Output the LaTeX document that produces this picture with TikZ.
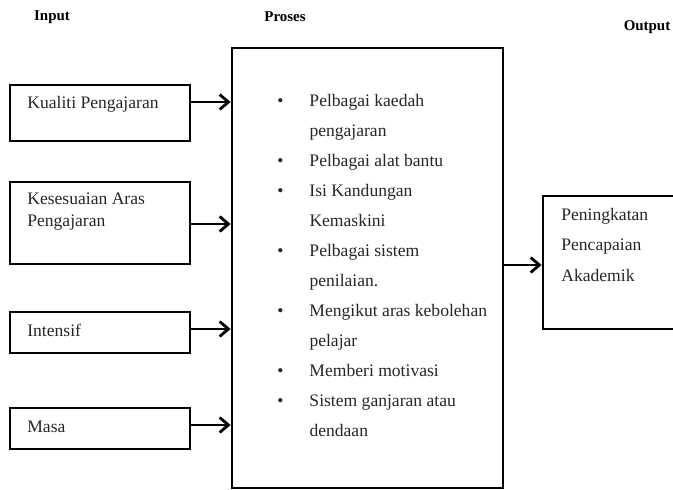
\documentclass[tikz,border=0pt]{standalone}
\usepackage{fontspec}
\setmainfont{Liberation Serif}
\usetikzlibrary{arrows.meta, positioning}

\begin{document}
\begin{tikzpicture}[
        x=0.02cm, y=-0.02cm,
        box/.style={rectangle, draw, line width=1.6pt, inner sep=0pt},
        txt/.style={anchor=base west, inner sep=0pt, font=\fontsize{10}{12}\selectfont, text=black!85},
        head/.style={inner sep=0pt, font=\fontsize{8.5}{10}\selectfont\bfseries},
        arr/.style={line width=1.6pt, -{Straight Barb[length=5pt, width=8.5pt]}}
    ]
        \clip (0,0) rectangle (673,490);

        % Headings
        \node[head] (hinput) at (52,17) {Input};
        \node[head] (hproses) at (285,17) {Proses};
        \node[head] (houtput) at (647,27) {Output};

        % Input boxes
        \node[box, minimum width=3.6cm, minimum height=1.12cm] (kualiti) at (100,113) {};
        \node[txt] at (27,108) {Kualiti Pengajaran};
        \node[box, minimum width=3.6cm, minimum height=1.64cm] (aras) at (100,223) {};
        \node[txt, align=left] at (27,226) {Kesesuaian Aras\\Pengajaran};
        \node[box, minimum width=3.6cm, minimum height=0.82cm] (intensif) at (100,332.5) {};
        \node[txt] at (27,336) {Intensif};
        \node[box, minimum width=3.6cm, minimum height=0.82cm] (masa) at (100,428.5) {};
        \node[txt] at (27,432) {Masa};

        % Proses box
        \node[box, minimum width=5.42cm, minimum height=8.8cm] (proses) at (367.5,268) {};
        \node[txt] (senarai) at (277,106) {%
            \renewcommand{\arraystretch}{1.425}%
            \begin{tabular}[t]{@{}l@{\hspace{0.52cm}}l@{}}
                \textbullet & Pelbagai kaedah\\
                            & pengajaran\\
                \textbullet & Pelbagai alat bantu\\
                \textbullet & Isi Kandungan\\
                            & Kemaskini\\
                \textbullet & Pelbagai sistem\\
                            & penilaian.\\
                \textbullet & Mengikut aras kebolehan\\
                            & pelajar\\
                \textbullet & Memberi motivasi\\
                \textbullet & Sistem ganjaran atau\\
                            & dendaan
            \end{tabular}};

        % Output box
        \node[box, minimum width=3.3cm, minimum height=2.66cm] (output) at (625.5,262.5) {};
        \node[txt, align=left, font=\fontsize{10}{17.1}\selectfont] at (561,281) {Peningkatan\\Pencapaian\\Akademik};

        % Connections
        \coordinate (y1) at (0,102);
        \coordinate (y2) at (0,224);
        \coordinate (y3) at (0,329);
        \coordinate (y4) at (0,425);
        \coordinate (y5) at (0,265);
        \draw[arr] (kualiti.east |- y1) -- (proses.west |- y1);
        \draw[arr] (aras.east |- y2) -- (proses.west |- y2);
        \draw[arr] (intensif.east |- y3) -- (proses.west |- y3);
        \draw[arr] (masa.east |- y4) -- (proses.west |- y4);
        \draw[arr] (proses.east |- y5) -- (output.west |- y5);
    \end{tikzpicture}
\end{document}
